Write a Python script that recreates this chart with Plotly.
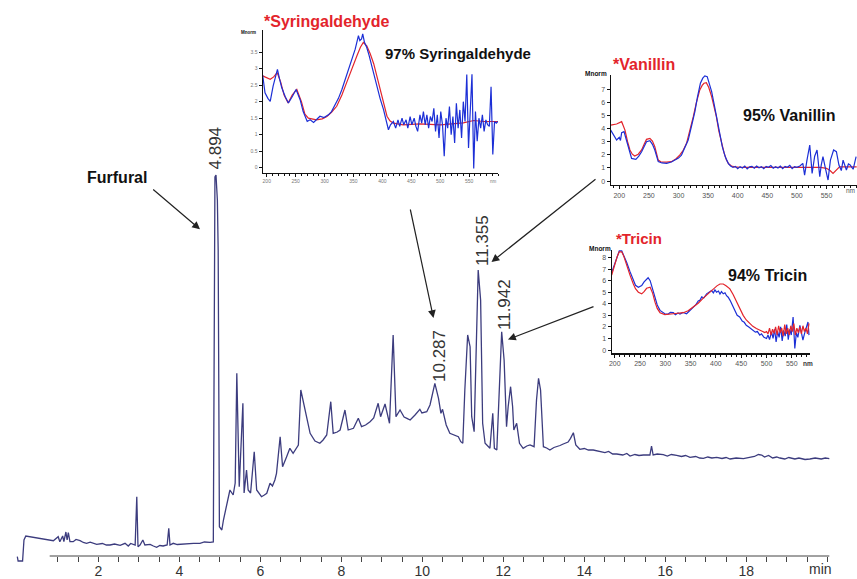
import plotly.graph_objects as go

W, H = 857, 579

# ---------------- Main chromatogram (retention time in min, signal in mAU) ----------------
rt_min = [0.00, 0.02, 0.13, 0.165, 0.21, 0.31, 0.45, 0.55, 0.64, 0.75, 0.89, 1.01, 1.05, 1.12, 1.15,
          1.20, 1.23, 1.26, 1.30, 1.38, 1.45, 1.55, 1.63, 1.71, 1.80, 1.96, 2.10, 2.20, 2.29, 2.40,
          2.54, 2.66, 2.74, 2.80, 2.86, 2.91, 2.95, 2.98, 3.03, 3.10, 3.15, 3.28, 3.36, 3.44, 3.52,
          3.60, 3.70, 3.74, 3.77, 3.85, 3.95, 4.10, 4.22, 4.35, 4.51, 4.62, 4.76, 4.84, 4.88, 4.906,
          4.94, 4.96, 4.99, 5.05, 5.09, 5.17, 5.25, 5.33, 5.38, 5.42, 5.46, 5.48, 5.57, 5.60, 5.66,
          5.70, 5.76, 5.85, 5.91, 6.03, 6.10, 6.16, 6.24, 6.30, 6.36, 6.40, 6.49, 6.55, 6.65, 6.73,
          6.81, 6.94, 7.00, 7.10, 7.23, 7.35, 7.47, 7.55, 7.64, 7.74, 7.80, 7.90, 7.97, 8.09, 8.17,
          8.30, 8.42, 8.50, 8.60, 8.71, 8.80, 8.91, 8.97, 9.08, 9.19, 9.28, 9.35, 9.45, 9.55, 9.62,
          9.70, 9.82, 9.94, 9.99, 10.11, 10.19, 10.31, 10.40, 10.46, 10.50, 10.59, 10.68, 10.77, 10.89,
          10.95, 11.00, 11.05, 11.12, 11.18, 11.22, 11.28, 11.33, 11.38, 11.44, 11.49, 11.55, 11.67,
          11.74, 11.78, 11.84, 11.90, 11.96, 12.02, 12.08, 12.12, 12.18, 12.23, 12.26, 12.33, 12.40,
          12.49, 12.58, 12.66, 12.76, 12.82, 12.87, 12.92, 12.99, 13.07, 13.15, 13.25, 13.32, 13.40,
          13.48, 13.60, 13.66, 13.73, 13.79, 13.89, 14.00, 14.10, 14.22, 14.35, 14.51, 14.60, 14.70,
          14.80, 14.95, 15.05, 15.13, 15.25, 15.35, 15.46, 15.62, 15.66, 15.70, 15.80, 15.95, 16.05,
          16.15, 16.28, 16.40, 16.50, 16.61, 16.75, 16.85, 16.94, 17.05, 17.15, 17.27, 17.40, 17.50,
          17.60, 17.75, 17.93, 18.05, 18.20, 18.30, 18.38, 18.45, 18.55, 18.65, 18.75, 18.83, 18.95,
          19.05, 19.20, 19.30, 19.45, 19.57, 19.70, 19.85, 19.95, 20.05]
signal_mau = [-0.7, -5, -5, 16, 20, 19.3, 18.5, 17.5, 16.7, 16.2, 15.3, 19.3, 14.3, 20, 14.3,
              24, 16, 23.3, 14.3, 14.3, 16.5, 15.3, 13.5, 12.7, 13.8, 11.7, 12.5, 11, 11, 12,
              10.7, 12.7, 10, 12.5, 12, 11, 59.3, 9.3, 11, 16, 11, 11.7, 10, 8.7, 10.5,
              10, 11, 27.7, 11, 12.7, 11.5, 12, 13, 12.7, 12.7, 14, 13.7, 14, 379, 381,
              356, 306, 29.3, 26, 36, 52.7, 66, 61, 73, 182.7, 106, 69.3, 152.7, 63, 86,
              66, 63, 104.3, 66, 59.3, 61, 62.7, 72.7, 70, 76, 82.7, 119.3, 89.3, 99.3, 107.7,
              102.7, 111, 166, 146, 122.7, 115, 112.7, 116, 121, 154.3, 122.7, 124, 126, 146, 126,
              127.7, 137.7, 129.3, 131, 134.3, 138, 152.7, 139.3, 152, 132.7, 221, 139.3, 146, 139, 137.7,
              136, 141, 146.7, 143, 144.3, 151, 172.7, 157.7, 142.7, 146.7, 131, 122.7, 121, 119.3,
              114.3, 112.7, 166, 221, 209.3, 139.3, 124.3, 206, 286, 256, 132.7, 112.7, 107.7,
              142.7, 107.7, 106, 166, 224.3, 196, 129.3, 149.3, 169.3, 149.3, 126, 132.7, 112.7,
              107.7, 110, 111, 109.3, 156, 177.7, 166, 109.3, 108, 106, 108.5, 109.3, 110.5,
              112, 114, 117.7, 123.3, 111, 106.7, 107.5, 106, 106, 104.5, 103.3, 104.5, 102,
              102, 101, 102.5, 100, 101.5, 100.5, 101, 101, 110, 101, 102, 101.3, 100,
              101.5, 100.7, 99.5, 100.5, 98.7, 99.5, 98, 97.7, 99, 98, 98.7, 97.5, 98.5,
              97, 98, 97.3, 98.5, 99.5, 101.5, 101, 99, 100.5, 98, 99, 98, 97,
              98.5, 97, 98, 96.5, 97, 98, 97, 98, 97.3]

axis_major_ticks = [2, 4, 6, 8, 10, 12, 14, 16, 18]
axis_unit = "min"
peak_labels = ["4.894", "10.287", "11.355", "11.942"]

# ---------------- UV spectra insets (wavelength nm, normalised absorbance) ----------------
compounds = ["Syringaldehyde", "Vanillin", "Tricin"]
match_pct = [97, 95, 94]

syr_ref_nm = [193, 200, 206, 212, 218, 224, 230, 237, 244, 252, 260, 266, 272, 286, 296, 304, 312, 321,
              330, 338, 347, 356, 362, 367, 373, 379, 385, 391, 396, 402, 408, 413, 419, 436, 465, 500,
              523, 540, 558, 575, 600]
syr_ref = [2.78, 2.72, 2.68, 2.75, 2.88, 2.6, 2.2, 1.96, 2.2, 2.37, 2.0, 1.62, 1.5, 1.45, 1.48, 1.55, 1.68, 1.86,
           2.2, 2.57, 3.0, 3.39, 3.65, 3.79, 3.69, 3.45, 3.15, 2.75, 2.37, 1.95, 1.56, 1.42, 1.35, 1.3, 1.33, 1.3,
           1.33, 1.36, 1.43, 1.4, 1.4]
syr_smp_nm = [193, 197, 202, 206, 211, 215, 218.5, 222, 226, 232, 237.5, 244, 250.7, 257.7, 263, 270, 275,
              281, 286, 292, 299, 306.7, 312, 318, 324, 330, 336, 341, 347, 353, 358.6, 361, 364, 366, 369,
              373, 377, 381.7, 386, 390, 396, 402, 407, 410.5, 414, 419, 423, 427, 430, 434, 437, 441, 444,
              448, 451, 455, 458, 461, 465, 468, 471, 474, 477, 480, 483, 486, 489, 492, 495, 498, 501, 504,
              507, 510, 513, 516, 519, 522, 525, 528, 531, 534, 537, 540, 543, 546, 549, 552, 555, 558, 561,
              564, 567, 570, 573, 576, 579, 582, 585, 588, 591, 594, 597, 600]
syr_smp = [2.8, 2.27, 2.1, 2.01, 2.47, 2.75, 2.98, 2.7, 2.42, 2.15, 1.96, 2.15, 2.37, 2.06, 1.7, 1.4, 1.45,
           1.37, 1.45, 1.56, 1.52, 1.6, 1.7, 1.91, 2.1, 2.37, 2.7, 2.98, 3.3, 3.59, 4.0, 3.85, 3.9, 4.05, 3.8,
           3.64, 3.4, 3.08, 2.8, 2.47, 2.1, 1.76, 1.4, 1.15, 1.3, 1.4, 1.2, 1.45, 1.25, 1.5, 1.3, 1.45, 1.2,
           1.55, 1.3, 1.5, 1.25, 1.1, 1.6, 1.35, 1.7, 1.3, 1.6, 1.2, 1.55, 1.4, 1.8, 1.1, 1.6, 0.9, 1.7, 1.3,
           0.35, 1.5, 1.2, 1.85, 1.0, 1.55, 0.75, 1.95, 1.2, 1.75, 0.9, 2.0, 1.4, 2.82, 0.6, 1.9, 2.83, -0.02, 1.7,
           0.8, 1.5, 1.2, 1.6, 1.1, 1.45, 1.3, 1.25, 2.45, 0.4, 1.4, 1.35, 1.4]

van_ref_nm = [185.5, 195.5, 204, 209.6, 214, 218, 222, 226, 232, 237.7, 242, 246, 251.7, 256, 260, 263, 265.8,
              270, 274, 280, 288, 296, 302, 308, 313.6, 319, 325, 330, 336, 340, 343, 347, 351, 356, 360, 364,
              368, 372.7, 377, 381, 385, 389.5, 395, 403.6, 430, 460, 499, 515, 527, 540, 550, 556, 561, 566,
              572, 585, 601]
van_ref = [4.27, 4.35, 4.53, 3.89, 3.0, 2.37, 2.05, 1.91, 2.05, 2.37, 2.8, 3.18, 3.26, 3.05, 2.62, 2.1, 1.6,
           1.47, 1.45, 1.45, 1.48, 1.7, 1.98, 2.35, 2.88, 3.8, 4.91, 5.95, 6.95, 7.3, 7.46, 7.5, 7.15, 6.44, 5.7,
           4.91, 3.85, 2.88, 2.15, 1.6, 1.3, 1.15, 1.08, 1.04, 1.05, 1.06, 1.09, 1.08, 1.09, 1.05, 0.97, 0.8, 0.59,
           0.8, 1.09, 1.08, 1.09]
van_smp_nm = [185.5, 190, 195.5, 200, 202, 204, 208, 212, 216, 220.8, 228, 233, 237.7, 242, 246, 251.7, 256, 260,
              263, 265.8, 272, 280, 288, 294, 300, 305, 310, 316.4, 322, 327.7, 332, 337, 341, 344.5, 348.5, 352,
              356, 360, 364, 369, 374, 379, 384, 388, 392, 396, 400, 404, 408, 412, 416, 420, 424, 428, 432, 436,
              440, 444, 448, 452, 456, 460, 464, 468, 472, 476, 480, 484, 488, 492, 496, 500, 505, 510, 513, 517,
              521.7, 525.7, 530, 534, 538.6, 541, 544, 548, 552.6, 556.6, 562, 566.7, 571, 575, 578, 583.6, 587, 590,
              595, 600]
van_smp = [3.89, 3.5, 3.13, 3.33, 3.1, 3.69, 3.77, 3.13, 2.4, 1.73, 1.65, 1.9, 2.24, 2.65, 3.0, 3.08, 2.8, 2.37,
           1.9, 1.48, 1.38, 1.35, 1.45, 1.6, 1.75, 1.98, 2.45, 3.13, 4.2, 5.29, 6.4, 7.46, 7.85, 8.02, 7.96, 7.5,
           6.82, 5.9, 4.91, 3.7, 2.62, 1.85, 1.35, 1.15, 1.04, 1.12, 0.95, 1.1, 1.0, 1.15, 0.92, 1.08, 1.12, 0.98,
           1.15, 1.02, 1.1, 0.95, 1.12, 1.05, 1.18, 0.98, 1.1, 1.0, 1.15, 0.95, 1.12, 1.05, 1.2, 0.95, 1.1, 1.05,
           1.15, 1.35, 0.46, 1.6, 2.75, 0.59, 1.9, 2.37, 0.33, 1.2, 1.86, 1.0, 0.08, 1.6, 2.37, 2.24, 1.22, 0.8,
           1.6, 0.84, 1.3, 1.22, 0.9, 1.86]

tri_ref_nm = [194, 200.7, 205, 209, 213.8, 218, 223.7, 230, 236.8, 241, 246.7, 253.3, 258, 263, 270, 275, 279.6,
              284, 289.5, 299, 315.8, 335.5, 345, 355, 365, 375, 385, 394.7, 402, 408, 414.5, 420, 427.6, 434,
              440.8, 447, 453.9, 460, 467, 473, 480, 488, 496.7, 500, 503, 506, 509, 512, 515, 518, 521, 524,
              527, 530, 533, 536, 539, 542, 545, 548, 551, 554, 557, 560, 563, 566, 569, 572, 575, 578, 581, 584]
tri_ref = [6.49, 7.57, 8.1, 8.49, 8.49, 8.1, 7.29, 6.5, 5.71, 5.3, 5.0, 4.86, 5.05, 5.34, 5.43, 4.9, 4.14,
           3.6, 3.23, 3.06, 3.14, 3.23, 3.4, 3.71, 4.05, 4.49, 4.9, 5.29, 5.55, 5.71, 5.71, 5.55, 5.29, 4.8,
           4.14, 3.55, 3.0, 2.6, 2.29, 2.05, 1.86, 1.7, 1.51, 1.6, 1.4, 1.9, 1.3, 1.8, 1.45, 2.0, 1.3, 2.1,
           1.5, 1.9, 1.2, 2.2, 1.4, 1.9, 1.3, 2.1, 1.6, 2.3, 1.3, 1.9, 1.5, 2.0, 1.4, 2.1, 1.6, 1.9, 1.4, 2.3]
tri_smp_nm = [194, 200.7, 205, 209, 213.8, 218, 223.7, 230, 236.8, 241, 246.7, 253.3, 258, 263, 266, 270, 275,
              279.6, 284, 289.5, 299, 305, 310, 315.8, 320, 325, 329, 335, 342, 348, 355, 360, 365, 368, 372,
              376, 381.6, 386, 391.4, 395, 398, 401.3, 405, 408, 411, 414.5, 418, 421, 424.3, 428, 431, 434, 438,
              442, 447, 452, 456, 460, 465, 469, 473.7, 478, 482, 486.8, 490, 495, 500, 503, 506, 510, 513, 516,
              519, 522, 525, 528, 531, 534, 537, 540, 543, 546, 549, 552.6, 556, 559, 562, 566, 569, 572, 575,
              578, 582, 584]
tri_smp = [6.71, 7.63, 8.2, 8.57, 8.57, 8.2, 7.57, 6.8, 6.0, 5.6, 5.43, 5.57, 5.9, 6.14, 6.25, 6.0, 5.3,
           4.57, 3.9, 3.43, 3.14, 3.1, 3.25, 3.23, 3.05, 3.2, 3.11, 3.25, 3.14, 3.4, 3.71, 3.9, 4.25, 4.29, 4.6,
           4.5, 4.86, 5.0, 5.14, 4.95, 5.2, 5.0, 5.1, 4.85, 5.05, 4.86, 4.95, 4.7, 4.57, 4.3, 4.05, 3.71, 3.4,
           3.0, 2.86, 2.5, 2.4, 2.14, 2.0, 1.85, 1.71, 1.55, 1.6, 1.29, 1.4, 1.1, 1.0, 1.3, 0.9, 1.57, 1.0, 1.8,
           0.7, 1.6, 1.1, 2.0, 0.8, 1.7, 1.2, 2.2, 0.9, 1.8, 1.3, 2.86, 0.14, 1.5, 1.1, 2.14, 1.5, 0.86, 1.4,
           1.9, 2.43, 1.29]

# ---------------- styling ----------------
CHROM = "#3c3c7e"
RED = "#e3242b"
BLUE = "#1c2fd6"
FONT = "Liberation Sans, Arial, sans-serif"
NARROW = "Liberation Sans Narrow, Arial Narrow, Liberation Sans, Arial, sans-serif"


def paper(x, y):
    return x / W, 1 - y / H


fig = go.Figure()
fig.add_trace(go.Scatter(x=rt_min, y=signal_mau, mode="lines", line=dict(color=CHROM, width=1.3),
                         xaxis="x", yaxis="y", hoverinfo="skip", showlegend=False))

insets = [
    ("2", syr_ref_nm, syr_ref, syr_smp_nm, syr_smp, False),
    ("3", van_ref_nm, van_ref, van_smp_nm, van_smp, False),
    ("4", tri_ref_nm, tri_ref, tri_smp_nm, tri_smp, True),
]
for ax_id, rx, ry, sx, sy, red_top in insets:
    ref_tr = go.Scatter(x=rx, y=ry, mode="lines", line=dict(color=RED, width=1.2),
                        xaxis="x" + ax_id, yaxis="y" + ax_id, hoverinfo="skip", showlegend=False)
    smp_tr = go.Scatter(x=sx, y=sy, mode="lines", line=dict(color=BLUE, width=1.2),
                        xaxis="x" + ax_id, yaxis="y" + ax_id, hoverinfo="skip", showlegend=False)
    if red_top:
        fig.add_trace(smp_tr)
        fig.add_trace(ref_tr)
    else:
        fig.add_trace(ref_tr)
        fig.add_trace(smp_tr)

# main time axis ticks every 0.5 min from 1 to 20
tick_vals = [1 + 0.5 * i for i in range(39)]
tick_text = [str(int(v)) if v in axis_major_ticks else "" for v in tick_vals]

# pixel geometry of main plot: x_px = 17.3 + 40.5*t ; y_px = 556 - signal
x_lo = (0 - 17.3) / 40.5
x_hi = (W - 17.3) / 40.5

layout = dict(
    width=W, height=H, margin=dict(l=0, r=0, t=0, b=0),
    paper_bgcolor="white", plot_bgcolor="rgba(0,0,0,0)", template="none",
    font=dict(family=FONT, color="#222"),
    showlegend=False,
    xaxis=dict(domain=[0, 1], range=[x_lo, x_hi], anchor="free", position=23 / H,
               showline=False, showgrid=False, zeroline=False, automargin=False,
               tickmode="array", tickvals=tick_vals, ticktext=tick_text,
               ticks="outside", ticklen=5, tickwidth=1, tickcolor="#444",
               ticklabelstandoff=-3,
               tickfont=dict(family=NARROW, size=14, color="#333")),
    yaxis=dict(domain=[0, 1], range=[-23, 556], visible=False, automargin=False),
)


def inset_axes(xdom_px, ydom_px, xr, yr, yticks, yticktext, tick_size, tick_color):
    xa = dict(domain=[xdom_px[0] / W, xdom_px[1] / W], range=xr, showline=True, linecolor="#111",
              linewidth=1.2, showgrid=False, zeroline=False, automargin=False,
              ticks="outside", ticklen=3, tickwidth=1, tickcolor="#111",
              tickmode="array", tickvals=[200, 250, 300, 350, 400, 450, 500, 550],
              tickfont=dict(family=FONT, size=tick_size, color=tick_color),
              minor=dict(tickmode="linear", tick0=200, dtick=10, ticks="outside", ticklen=2,
                         tickcolor="#111", tickwidth=1))
    ya = dict(domain=[1 - ydom_px[1] / H, 1 - ydom_px[0] / H], range=yr, showline=True,
              linecolor="#111", linewidth=1.2, showgrid=False, zeroline=False, automargin=False,
              ticks="outside", ticklen=3, tickwidth=1, tickcolor="#111",
              tickmode="array", tickvals=yticks, ticktext=yticktext,
              tickfont=dict(family=FONT, size=tick_size, color=tick_color))
    return xa, ya


xa2, ya2 = inset_axes((262.7, 498), (30, 173), [193, 600], [-0.16, 4.17],
                      [0, 0.5, 1, 1.5, 2, 2.5, 3, 3.5], ["0", "0.5", "1", "1.5", "2", "2.5", "3", "3.5"],
                      5, "#777")
xa3, ya3 = inset_axes((610.7, 857), (75, 185), [185.5, 601.5], [-0.3, 8.09],
                      list(range(0, 8)), [str(v) for v in range(0, 8)], 7, "#555")
xa4, ya4 = inset_axes((611.7, 810), (250, 353.3), [194, 586], [-0.28, 8.65],
                      list(range(0, 9)), [str(v) for v in range(0, 9)], 7, "#555")
xa2["anchor"], ya2["anchor"] = "y2", "x2"
xa3["anchor"], ya3["anchor"] = "y3", "x3"
xa4["anchor"], ya4["anchor"] = "y4", "x4"
layout.update(xaxis2=xa2, yaxis2=ya2, xaxis3=xa3, yaxis3=ya3, xaxis4=xa4, yaxis4=ya4)
fig.update_layout(**layout)

# time axis line (starts a little before the first tick)
fig.add_shape(type="line", xref="x", yref="y", x0=0.8, x1=20.05, y0=0, y1=0,
              line=dict(color="#444", width=1))

ann = []


def text(x, y, s, size, color="#111", bold=False, xanchor="left", angle=0, family=FONT):
    px_, py_ = paper(x, y)
    ann.append(dict(x=px_, y=py_, xref="paper", yref="paper", text=("<b>%s</b>" % s) if bold else s,
                    showarrow=False, xanchor=xanchor, yanchor="middle", textangle=angle,
                    font=dict(family=family, size=size, color=color)))


def arrow(head, tail):
    hx, hy = paper(*head)
    ann.append(dict(x=hx, y=hy, xref="paper", yref="paper", text="", showarrow=True,
                    ax=tail[0] - head[0], ay=tail[1] - head[1], arrowhead=2, arrowsize=1.3,
                    arrowwidth=1.2, arrowcolor="#222", standoff=0))


# axis unit
text(820, 569, axis_unit, 14, color="#333", xanchor="center", family=NARROW)

# peak labels (rotated)
for lab, (cx, cy) in zip(peak_labels, [(215, 147.5), (439, 356), (482, 241), (504, 304)]):
    text(cx, cy, lab, 17, color="#333", xanchor="center", angle=-90, family=NARROW)

# compound labels
text(85, 177, "Furfural", 16, bold=True)
text(262, 22, "*" + compounds[0], 16, color=RED, bold=True)
text(383, 53, "%d%% %s" % (match_pct[0], compounds[0]), 15, bold=True)
text(611, 64, "*" + compounds[1], 16, color=RED, bold=True)
text(741, 115, "%d%% %s" % (match_pct[1], compounds[1]), 16, bold=True)
text(614, 238.5, "*" + compounds[2], 15, color=RED, bold=True)
text(726, 275, "%d%% %s" % (match_pct[2], compounds[2]), 16, bold=True)

# inset axis titles
text(258, 32, "Mnorm", 4.5, bold=True, xanchor="right")
text(609, 74, "Mnorm", 6.5, bold=True, xanchor="right")
text(613, 249, "Mnorm", 6.5, bold=True, xanchor="right")
text(493, 182, "nm", 4.5, color="#777", xanchor="center")
text(857, 190, "nm", 6.5, color="#555", xanchor="right")
text(808, 363, "nm", 6.5, bold=True, color="#333", xanchor="center")

# arrows
arrow((200, 229.3), (151.7, 188.3))
arrow((433.5, 318), (410, 208))
arrow((491.5, 262), (597, 178))
arrow((508, 339.5), (595, 306))

fig.update_layout(annotations=ann)
fig.write_html("out.html",
               config={"displayModeBar": False, "staticPlot": True},
               post_script="document.body.style.margin='0';document.body.style.padding='0';"
                           "document.body.style.overflow='hidden';")
